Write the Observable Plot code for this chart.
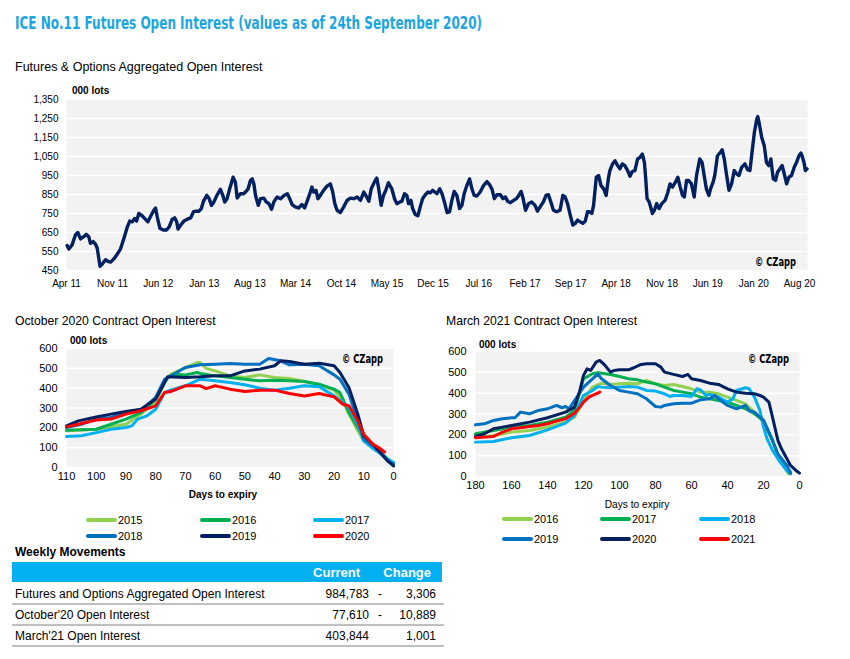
<!DOCTYPE html>
<html><head><meta charset="utf-8">
<script src="https://cdn.jsdelivr.net/npm/d3@7"></script>
<script src="https://cdn.jsdelivr.net/npm/@observablehq/plot@0.6"></script>
<style>
body{margin:0;background:#fff;}
#root{position:relative;width:850px;height:659px;overflow:hidden;font-family:"Liberation Sans",Arial,sans-serif;color:#000;}
.t{position:absolute;white-space:nowrap;line-height:16px;height:16px;}
.narrow{font-family:"Liberation Sans Narrow","Arial Narrow","DejaVu Sans Condensed","Roboto Condensed",sans-serif;font-weight:bold;}
.chart{position:absolute;}
.chart svg{overflow:visible;}
</style></head><body><div id="root"></div>
<script>
// ---------- DATA ----------
// Main chart: months since Apr 2011 and open interest (000 lots)
const mainMonths = [0.10,0.36,0.87,1.37,1.73,2.14,2.65,3.05,3.41,3.66,4.07,4.43,4.68,5.09,5.45,5.95,6.31,6.72,7.23,7.74,8.24,8.75,9.26,9.62,10.03,10.38,10.69,11.04,11.55,11.91,12.42,12.93,13.33,13.59,13.84,14.25,14.76,15.27,15.67,16.13,16.49,16.79,17.0,17.4,17.91,18.42,18.93,19.34,19.69,20.2,20.56,20.87,21.37,21.73,22.09,22.49,23.0,23.51,23.87,24.17,24.53,24.94,25.45,25.8,26.06,26.56,27.07,
27.33,27.74,28.09,28.35,28.6,28.85,29.26,29.62,30.13,30.48,30.89,31.3,31.65,32.16,32.67,33.18,33.69,34.05,34.45,34.96,35.47,35.98,36.39,36.74,37.1,37.51,37.76,38.12,38.42,38.78,39.29,39.8,40.31,40.66,40.97,41.32,41.83,42.34,42.85,43.36,43.87,44.38,44.89,45.39,45.75,46.16,46.56,47.07,47.43,47.68,48.09,48.45,48.8,49.21,49.72,50.13,50.48,50.99,51.25,51.65,52.01,52.26,52.62,52.88,53.28,53.69,54.05,54.4,54.81,55.22,55.57,55.93,
56.59,57.0,57.35,57.71,58.12,58.52,58.88,59.24,59.64,60.05,60.41,60.76,61.17,61.58,61.93,62.29,62.7,63.21,63.71,64.22,64.63,64.99,65.34,65.75,66.26,66.67,67.02,67.38,67.79,68.3,68.7,69.06,69.42,69.72,70.08,70.59,71.09,71.6,71.96,72.37,72.88,73.28,73.64,74.0,74.4,74.91,75.42,75.83,76.18,76.54,76.95,77.35,77.71,78.07,78.47,78.88,79.24,79.59,79.9,80.25,80.51,80.92,81.27,81.63,82.04,82.44,82.8,83.05,83.46,
83.82,84.22,84.58,84.94,85.34,85.75,86.11,86.46,86.87,87.28,87.63,87.99,88.3,88.5,88.7,89.01,89.31,89.52,89.82,90.18,90.53,90.94,91.45,91.86,92.21,92.57,92.98,93.38,93.74,94.1,94.4,94.76,95.11,95.52,95.93,96.29,96.79,97.15,97.46,97.81,98.17,98.47,98.83,99.08,99.49,100.0,100.2,100.51,100.87,101.22,101.63,102.04,102.39,102.75,103.16,103.66,104.07,104.43,104.68,105.09,105.45,105.6,105.8,106.21,106.62,106.97,107.33,107.63,107.99,108.35,108.65,109.01,109.36,109.67,110.03,110.38,110.79,111.2,111.55,111.91,112.21,112.37,112.67,112.87,113.13];
const mainOI = [581,563,585,637,650,616,628,640,628,593,602,588,567,472,484,507,498,494,512,536,564,620,680,710,706,724,710,750,738,724,706,741,767,779,732,672,663,663,680,720,727,706,668,689,710,720,727,758,762,762,776,814,846,828,793,811,846,877,846,811,828,880,941,915,832,854,854,
863,880,924,932,906,845,793,828,831,811,802,772,811,837,828,845,854,828,797,785,779,797,779,811,845,889,863,872,828,845,872,894,906,863,802,767,755,785,819,831,828,837,819,863,842,814,880,915,936,889,793,845,872,912,880,828,802,811,814,854,845,802,819,776,745,738,785,828,849,863,859,872,
854,880,854,811,755,759,819,866,845,776,793,854,897,932,880,845,842,863,897,918,901,877,828,849,849,828,837,814,807,819,828,845,866,828,767,802,811,793,762,785,811,845,849,811,767,759,767,845,837,802,741,689,698,715,706,698,710,759,759,750,793,941,950,897,880,845,932,976,1011,
1028,1002,985,1011,1002,976,946,971,976,1037,1045,1063,1019,932,828,811,776,750,767,802,776,802,819,859,906,889,912,941,889,845,837,924,924,906,837,950,1037,1019,950,877,845,884,915,950,1054,1075,1085,1037,950,872,906,976,959,950,993,1011,981,976,1054,1176,1246,1260,1228,1150,1106,1019,1002,1037,932,924,967,985,1002,959,906,941,950,993,1019,1054,1068,1054,1019,976,985];
const mainTickLabels = ["Apr 11","Nov 11","Jun 12","Jan 13","Aug 13","Mar 14","Oct 14","May 15","Dec 15","Jul 16","Feb 17","Sep 17","Apr 18","Nov 18","Jun 19","Jan 20","Aug 20"];
const mainYTicks = [450,550,650,750,850,950,1050,1150,1250,1350];

// October 2020 contract: [days to expiry, open interest]
const oct2015 = [[110,185],[100,193],[90,218],[85,269],[80,328],[77,429],[75,470],[70,504],[66,529],[65,529],[63,500],[60,487],[55,462],[50,454],[45,467],[40,454],[35,449],[30,434],[25,417],[20,390],[17,336],[15,269],[12,185],[10,134],[7,101],[5,84],[2,42],[0,25]];
const oct2016 = [[110,188],[100,193],[95,218],[90,244],[85,277],[80,345],[76,454],[73,470],[70,467],[66,479],[65,474],[60,462],[55,454],[50,445],[45,437],[40,440],[35,437],[30,434],[25,420],[20,395],[18,378],[15,277],[12,202],[10,151],[5,84],[0,17]];
const oct2017 = [[110,156],[105,160],[100,176],[95,193],[90,202],[88,210],[86,244],[83,260],[80,294],[77,378],[75,390],[70,412],[65,445],[60,437],[55,429],[50,417],[45,400],[40,390],[35,400],[30,412],[25,407],[20,361],[15,303],[12,218],[10,134],[7,97],[5,76],[2,42],[0,25]];
const oct2018 = [[110,202],[105,218],[100,244],[95,252],[90,277],[85,286],[80,353],[77,445],[74,470],[70,504],[65,518],[60,521],[55,524],[50,521],[45,521],[42,550],[38,538],[35,518],[30,521],[25,513],[20,467],[18,445],[15,370],[12,235],[10,143],[7,109],[5,84],[2,34],[0,17]];
const oct2019 = [[110,210],[106,235],[100,255],[95,269],[92,277],[90,282],[85,294],[80,345],[76,457],[70,454],[65,457],[60,462],[55,462],[50,487],[45,496],[40,513],[38,538],[35,534],[30,521],[25,526],[20,513],[18,479],[15,403],[12,269],[10,160],[7,118],[5,84],[2,34],[0,8]];
const oct2020 = [[110,205],[105,222],[100,239],[95,244],[90,269],[85,286],[80,311],[77,378],[75,383],[70,412],[65,412],[63,398],[60,412],[55,395],[50,383],[45,390],[40,390],[35,373],[30,361],[25,373],[20,356],[17,319],[15,311],[12,235],[10,168],[7,118],[5,101],[3,78]];
const octYears = ["2015","2016","2017","2018","2019","2020"];
const octXTicks = [110,100,90,80,70,60,50,40,30,20,10,0];

// March 2021 contract: [days to expiry, open interest]
const mar2016 = [[180,186],[170,197],[160,213],[150,221],[140,237],[130,261],[125,285],[120,365],[115,429],[110,448],[105,442],[100,445],[95,448],[90,445],[85,461],[80,445],[75,437],[70,442],[65,432],[60,421],[55,405],[50,405],[45,397],[40,381],[35,365],[30,349],[25,309],[20,261],[15,173],[12,101],[10,77],[8,37],[6,13]];
const mar2017 = [[180,205],[170,221],[160,237],[150,245],[140,261],[130,285],[125,317],[120,469],[115,493],[112,498],[110,496],[105,490],[100,480],[95,469],[90,464],[85,453],[80,445],[75,429],[70,413],[65,405],[60,397],[55,381],[50,373],[45,365],[40,357],[35,341],[30,325],[25,301],[20,269],[15,173],[12,101],[10,85],[7,45],[5,21]];
const mar2018 = [[180,165],[170,168],[160,186],[150,197],[140,224],[130,256],[125,293],[120,389],[115,413],[112,432],[110,429],[105,426],[100,429],[95,432],[90,429],[85,413],[80,410],[75,397],[72,384],[70,389],[65,389],[60,384],[57,421],[55,416],[52,389],[50,394],[45,381],[40,357],[37,373],[35,413],[30,426],[28,421],[25,381],[22,317],[20,237],[18,181],[15,125],[12,85],[10,61],[7,29],[5,13]];
const mar2019 = [[180,248],[175,253],[170,269],[165,277],[160,282],[158,282],[155,309],[150,301],[145,317],[140,325],[135,341],[132,330],[130,336],[128,325],[125,365],[120,429],[115,469],[112,493],[110,469],[105,437],[100,413],[95,405],[90,397],[85,373],[80,336],[77,333],[75,341],[70,349],[65,352],[60,352],[55,368],[50,373],[47,389],[45,373],[40,341],[35,325],[30,341],[28,317],[25,309],[20,269],[15,173],[12,109],[10,85],[7,53],[5,16]];
const mar2020 = [[180,192],[175,205],[170,229],[165,237],[160,245],[150,261],[140,282],[130,309],[125,333],[122,413],[120,485],[118,517],[116,509],[113,549],[111,557],[108,533],[105,501],[103,509],[100,512],[95,512],[92,522],[88,538],[85,541],[80,541],[77,525],[75,501],[70,490],[65,480],[62,490],[60,469],[55,461],[50,448],[45,442],[40,421],[35,405],[30,400],[25,397],[22,389],[20,381],[17,357],[15,285],[12,173],[10,133],[7,85],[5,53],[2,29],[0,16]];
const mar2021 = [[180,186],[175,189],[170,192],[165,213],[160,229],[155,234],[150,240],[145,245],[140,253],[135,266],[130,277],[127,293],[125,304],[122,333],[120,357],[117,381],[115,389],[113,397],[111,405]];
const marYears = ["2016","2017","2018","2019","2020","2021"];
const marXTicks = [180,160,140,120,100,80,60,40,20,0];

const contractYTicks = [0,100,200,300,400,500,600];
const seriesColors = ["#92d050","#00b050","#00b0f0","#0070c0","#002060","#ff0000"];

// Weekly movements table
const tableLabels = ["Futures and Options Aggregated Open Interest","October'20 Open Interest","March'21 Open Interest"];
const tableCurrent = ["984,783","77,610","403,844"];
const tableSign = ["-","-",""];
const tableChange = ["3,306","10,889","1,001"];
const tableHeaders = ["Current","Change"];

// ---------- HELPERS ----------
const root = document.getElementById("root");
function txt(s, x, y, css = {}, align = "left", cls = "t") {
  const d = document.createElement("div");
  d.className = cls;
  d.textContent = s;
  d.style.left = x + "px";
  d.style.top = (y - 8) + "px";
  Object.assign(d.style, css);
  if (align === "right") d.style.transform = "translateX(-100%)";
  if (align === "center") d.style.transform = "translateX(-50%)";
  root.appendChild(d);
  return d;
}
function fitWidth(el, w) {
  const actual = el.getBoundingClientRect().width;
  if (actual > 0) {
    el.style.transformOrigin = "0 50%";
    el.style.transform = `scaleX(${w / actual})`;
  }
}
function place(svg, x, y) {
  const wrap = document.createElement("div");
  wrap.className = "chart";
  wrap.style.left = x + "px";
  wrap.style.top = y + "px";
  wrap.appendChild(svg);
  root.appendChild(wrap);
}
const plotStyle = {fontFamily: "Liberation Sans, Arial, sans-serif", fontSize: "11px", color: "#000", background: "transparent", overflow: "visible"};
const monthToDate = m => {
  const w = Math.floor(m);
  const a = Date.UTC(2011, 3 + w, 1), b = Date.UTC(2011, 4 + w, 1);
  return new Date(a + (m - w) * (b - a));
};

// ---------- TITLES ----------
const title = txt("ICE No.11 Futures Open Interest (values as of 24th September 2020)", 15, 23,
  {fontSize: "17px", color: "#1ca5e0", lineHeight: "20px", height: "20px", top: "13px"}, "left", "t narrow");
fitWidth(title, 467);
txt("Futures & Options Aggregated Open Interest", 15, 67, {fontSize: "12.5px"});

// ---------- MAIN CHART ----------
const mainData = mainMonths.map((m, i) => ({date: monthToDate(m), value: mainOI[i]}));
const parseTick = d3.utcParse("%b %y");
const mainTickDates = mainTickLabels.map(parseTick);
place(Plot.plot({
  width: 850, height: 211, marginLeft: 66, marginRight: 43, marginTop: 14, marginBottom: 26,
  style: {...plotStyle, fontSize: "10px"},
  x: {type: "utc", domain: [monthToDate(0), monthToDate(113.2)], label: null},
  y: {domain: [450, 1350], label: null},
  marks: [
    Plot.frame({fill: "#f2f2f2", stroke: "none"}),
    Plot.gridY(mainYTicks, {stroke: "#fff", strokeOpacity: 1, strokeWidth: 1.5}),
    Plot.lineY(mainData, {x: "date", y: "value", stroke: "#002060", strokeWidth: 3.4, strokeLinejoin: "round"}),
    Plot.axisX(mainTickDates, {tickFormat: d => mainTickLabels[mainTickDates.findIndex(t => +t === +d)], tickSize: 0, tickPadding: 9, label: null}),
    Plot.axisY(mainYTicks, {tickFormat: d3.format(","), tickSize: 0, tickPadding: 8, label: null})
  ]
}), 0, 85);
txt("000 lots", 72, 91, {fontSize: "10px", fontWeight: "bold"});
fitWidth(txt("© CZapp", 755, 262, {fontSize: "12px"}, "left", "t narrow"), 41);

// ---------- CONTRACT CHARTS ----------
function contractChart(series, years, xMax, xTicks, w, ml, mr, plotH) {
  const data = series.flatMap((s, i) => s.map(([d, v]) => ({days: d, oi: v, year: years[i]})));
  return Plot.plot({
    width: w, height: 10 + plotH + 22, marginLeft: ml, marginRight: mr, marginTop: 10, marginBottom: 22,
    style: plotStyle,
    x: {domain: [xMax, 0], label: null},
    y: {domain: [0, 600], label: null},
    color: {domain: years, range: seriesColors},
    marks: [
      Plot.frame({fill: "#f2f2f2", stroke: "none"}),
      Plot.gridY(contractYTicks, {stroke: "#fff", strokeOpacity: 1, strokeWidth: 1.5}),
      Plot.lineY(data, {x: "days", y: "oi", z: "year", stroke: "year", strokeWidth: 3, strokeLinejoin: "round"}),
      Plot.axisX(xTicks, {tickSize: 0, tickPadding: 5, label: null}),
      Plot.axisY(contractYTicks, {tickSize: 0, tickPadding: 9, label: null})
    ]
  });
}
function legend(years, cols, rows) {
  years.forEach((y, i) => {
    const x = cols[i % 3], yy = rows[Math.floor(i / 3)];
    const sw = document.createElement("div");
    Object.assign(sw.style, {position: "absolute", left: x + "px", top: (yy - 2) + "px", width: "31px", height: "4px", borderRadius: "2px", background: seriesColors[i]});
    root.appendChild(sw);
    txt(y, x + 32, yy, {fontSize: "11px"});
  });
}

// October 2020
txt("October 2020 Contract Open Interest", 15, 321, {fontSize: "12.2px"});
place(contractChart([oct2015, oct2016, oct2017, oct2018, oct2019, oct2020], octYears, 110, octXTicks, 420, 66, 27, 119), 0, 338);
txt("000 lots", 70, 341, {fontSize: "10px", fontWeight: "bold"});
fitWidth(txt("© CZapp", 342, 359, {fontSize: "12px"}, "left", "t narrow"), 41);
txt("Days to expiry", 223, 495, {fontSize: "10px", fontWeight: "bold"}, "center");
legend(octYears, [86, 200, 313], [520, 535.5]);

// March 2021
txt("March 2021 Contract Open Interest", 446, 321, {fontSize: "12.2px"});
place(contractChart([mar2016, mar2017, mar2018, mar2019, mar2020, mar2021], marYears, 180, marXTicks, 400, 45, 31, 125), 430, 341);
txt("000 lots", 479, 345, {fontSize: "10px", fontWeight: "bold"});
fitWidth(txt("© CZapp", 748, 359, {fontSize: "12px"}, "left", "t narrow"), 41);
txt("Days to expiry", 637, 505, {fontSize: "10.2px"}, "center");
legend(marYears, [502, 600, 699], [519, 538.5]);

// ---------- TABLE ----------
txt("Weekly Movements", 15, 552, {fontSize: "12px", fontWeight: "bold"});
const hdr = document.createElement("div");
Object.assign(hdr.style, {position: "absolute", left: "12px", top: "562px", width: "430px", height: "20px", background: "#00b0f0"});
root.appendChild(hdr);
txt(tableHeaders[0], 360, 573, {fontSize: "13px", fontWeight: "bold", color: "#fff"}, "right");
txt(tableHeaders[1], 431, 573, {fontSize: "13px", fontWeight: "bold", color: "#fff"}, "right");
tableLabels.forEach((lab, i) => {
  const top = 584 + i * 21;
  const line = document.createElement("div");
  Object.assign(line.style, {position: "absolute", left: "12px", top: (top + 19) + "px", width: "432px", height: "2px", background: "#bfbfbf"});
  root.appendChild(line);
  const cy = top + 10;
  txt(lab, 15, cy, {fontSize: "12px"});
  txt(tableCurrent[i], 369, cy, {fontSize: "12px"}, "right");
  if (tableSign[i]) txt(tableSign[i], 378, cy, {fontSize: "12px"});
  txt(tableChange[i], 436, cy, {fontSize: "12px"}, "right");
});
</script></body></html>
